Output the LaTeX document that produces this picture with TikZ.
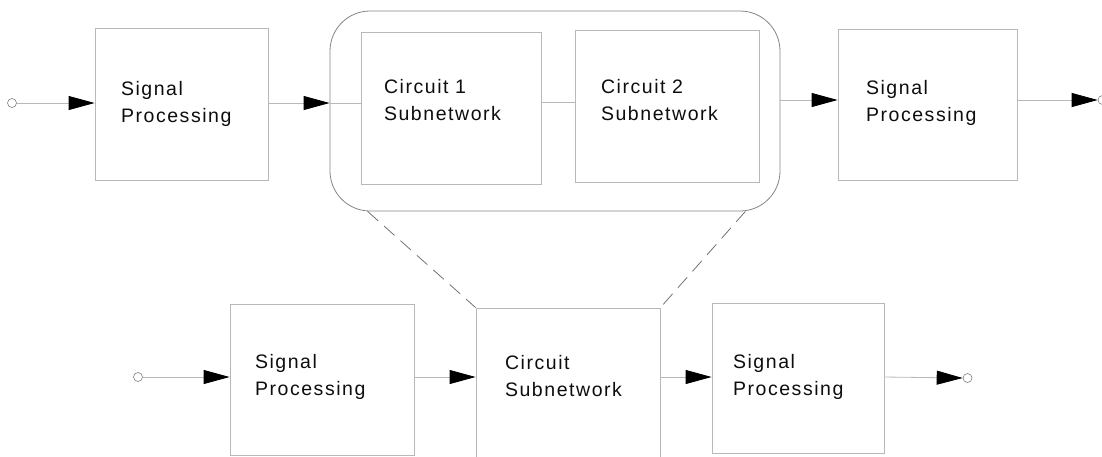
\documentclass[tikz,border=0pt]{standalone}
\usepackage{fontspec}
\setmainfont{Liberation Sans}[LetterSpace=8]
\usetikzlibrary{arrows.meta,calc}

\definecolor{edgegray}{gray}{0.72}
\definecolor{roundgray}{gray}{0.52}
\definecolor{dashgray}{gray}{0.45}
\definecolor{inkgray}{gray}{0.05}

\tikzset{
  block/.style n args={3}{draw=edgegray, line width=0.8pt, rectangle,
    minimum width=#1, minimum height=#2, text width=#1-2*#3, inner xsep=#3,
    align=left, text=inkgray,
    font=\fontsize{19.5pt}{27pt}\selectfont},
  lift/.style={text depth=#1},
  group/.style={draw=roundgray, line width=0.8pt, rounded corners=40pt},
  port/.style={circle, draw=gray, fill=white, line width=0.6pt,
    minimum size=9pt, inner sep=0pt},
  conn/.style={draw=edgegray, line width=0.8pt},
  tip/.style={-{Triangle[length=26pt,width=14pt,color=black]}},
  link/.style={draw=dashgray, line width=0.8pt, dash pattern=on 14pt off 8pt},
}

\begin{document}
\begin{tikzpicture}[x=1pt,y=-1pt]
  \useasboundingbox (0,0) rectangle (1102,456);
  \clip (0,0) rectangle (1102,456);

  % signal rows
  \coordinate (rowA) at (0,103);
  \coordinate (rowAB) at (0,102);
  \coordinate (rowB) at (0,100);
  \coordinate (rowC) at (0,377);

  % upper chain: processing, grouped subnetworks, processing
  \node[port] (in1) at (12,103) {};
  \node[block={173pt}{152pt}{26pt}] (sp1) at (181.5,104) {Signal\\Processing};
  \node[group, minimum width=450pt, minimum height=200pt] (grp) at (555,111) {};
  \node[block={180pt}{152pt}{23pt}, lift=43pt] (c1) at (451,108) {Circuit 1\\Subnetwork};
  \node[block={184pt}{152pt}{26pt}, lift=39pt] (c2) at (667,106) {Circuit 2\\Subnetwork};
  \node[block={179pt}{151pt}{28pt}, lift=34pt] (sp3) at (927.5,104.5) {Signal\\Processing};
  \node[port] (out1) at (1102.5,100) {};

  \draw[conn, tip] (in1.east) -- (sp1.west |- rowA);
  \draw[conn, tip] (sp1.east |- rowA) -- (grp.west |- rowA);
  \draw[conn] (grp.west |- rowA) -- (c1.west |- rowA);
  \draw[conn] (c1.east |- rowAB) -- (c2.west |- rowAB);
  \draw[conn, tip] (grp.east |- rowB) -- (sp3.west |- rowB);
  \draw[conn, tip] (sp3.east |- rowB) -- (out1.west);

  % lower chain: the grouped subnetworks collapsed into one block
  \node[port] (in2) at (138,377) {};
  \node[block={184pt}{151pt}{25pt}, lift=36pt] (b1) at (322,379.5) {Signal\\Processing};
  \node[block={184pt}{150pt}{29pt}, lift=41pt] (csub) at (568,383) {Circuit\\Subnetwork};
  \node[block={172pt}{150pt}{21pt}, lift=34pt] (b3) at (798,378) {Signal\\Processing};
  \node[port] (out2) at (967.5,378) {};

  \draw[conn, tip] (in2.east) -- (b1.west |- rowC);
  \draw[conn, tip] (b1.east |- rowC) -- (csub.west |- rowC);
  \draw[conn, tip] (csub.east |- rowC) -- (b3.west |- rowC);
  \draw[conn, tip] (b3.east |- rowC) -- (out2.west);

  % dashed links from the group to its collapsed block
  \draw[link] ($(grp.south west)+(38,0)$) -- (csub.north west);
  \draw[link] ($(grp.south east)+(-35,0)$) -- (csub.north east);
\end{tikzpicture}
\end{document}
